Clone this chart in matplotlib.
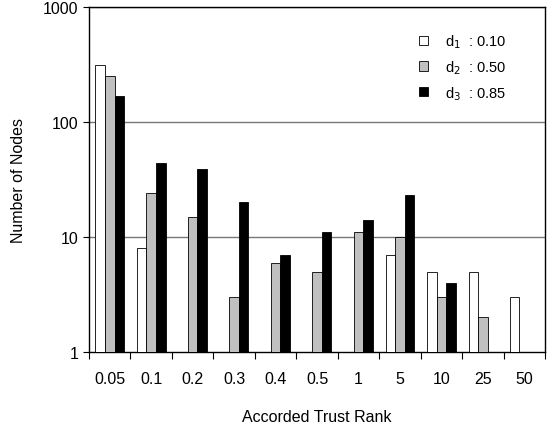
import numpy as np
import matplotlib
matplotlib.use("Agg")
import matplotlib.pyplot as plt
from matplotlib.ticker import FixedLocator, NullLocator, FixedFormatter

plt.rcParams['font.family'] = ['Liberation Sans', 'DejaVu Sans']

categories = ["0.05", "0.1", "0.2", "0.3", "0.4", "0.5", "1", "5", "10", "25", "50"]
d1 = [313, 8, np.nan, np.nan, np.nan, np.nan, np.nan, 7, 5, 5, 3]
d2 = [251, 24, 15, 3, 6, 5, 11, 10, 3, 2, np.nan]
d3 = [168, 44, 39, 20, 7, 11, 14, 23, 4, np.nan, np.nan]
series_labels = ["d$_1$  : 0.10", "d$_2$  : 0.50", "d$_3$  : 0.85"]
colors = ["white", "#c0c0c0", "black"]

FS = 11.5

fig = plt.figure(figsize=(5.53, 4.31), dpi=100)
ax = fig.add_axes([0.161, 0.181, 0.8245, 0.8])

x = np.arange(len(categories))
w = 0.23
for i, (vals, c, lab) in enumerate(zip([d1, d2, d3], colors, series_labels)):
    ax.bar(x + (i - 1) * w, vals, width=w, color=c, edgecolor="black",
           linewidth=0.6, label=lab, zorder=3)

ax.set_yscale("log")
ax.set_ylim(1, 1000)
ax.set_xlim(-0.5, len(categories) - 0.5)
ax.yaxis.set_major_locator(FixedLocator([1, 10, 100, 1000]))
ax.yaxis.set_major_formatter(FixedFormatter(["1", "10", "100", "1000"]))
ax.yaxis.set_minor_locator(NullLocator())
for yv in [10, 100, 1000]:
    ax.axhline(yv, color="#777777", linewidth=1.0, zorder=1)

ax.set_xticks(x)
ax.set_xticklabels(categories)
ax.tick_params(axis="x", which="major", length=0, labelsize=FS, pad=14)
ax.set_xticks(np.arange(len(categories) + 1) - 0.5, minor=True)
ax.tick_params(axis="x", which="minor", length=5, direction="out", width=0.8)
ax.tick_params(axis="y", which="major", length=4, direction="out", labelsize=FS, width=0.8)

for s in ax.spines.values():
    s.set_linewidth(1.0)
    s.set_color("black")

ax.set_xlabel("Accorded Trust Rank", fontsize=FS, labelpad=16)
ax.set_ylabel("Number of Nodes", fontsize=FS, labelpad=12)

leg = ax.legend(loc="upper right", frameon=False, fontsize=10.5, handlelength=0.6,
                handleheight=0.6, handletextpad=1.2, labelspacing=0.55,
                bbox_to_anchor=(0.945, 0.965))

fig.savefig("out.png", dpi=100)
